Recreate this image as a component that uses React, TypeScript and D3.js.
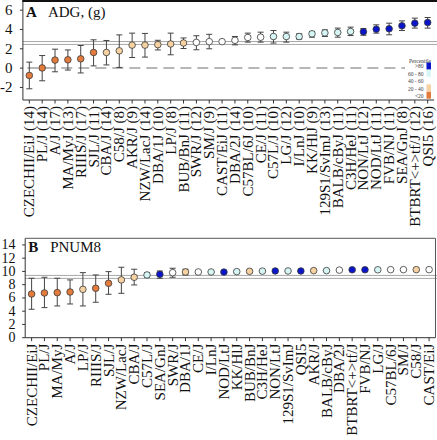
import React from "react";
import * as d3 from "d3";

// ---------- Panel A: ADG (g) ----------
const strainsA = [
  "CZECHII/EiJ", "PL/J", "A/J", "MA/MyJ", "RIIIS/J", "SJL/J", "CBA/J", "C58/J",
  "AKR/J", "NZW/LacJ", "DBA/1J", "LP/J", "BUB/BnJ", "SWR/J", "SM/J", "CAST/EiJ",
  "DBA/2J", "C57BL/6J", "CE/J", "C57L/J", "LG/J", "I/LnJ", "KK/HlJ", "129S1/SvImJ",
  "BALB/cByJ", "C3H/HeJ", "NON/LtJ", "NOD/LtJ", "FVB/NJ", "SEA/GnJ", "BTBRT<+>tf/J", "QSI5",
];
const countsA = [14, 14, 17, 13, 17, 11, 14, 8, 9, 14, 10, 8, 11, 12, 9, 11, 14, 10, 11, 10, 12, 10, 9, 13, 11, 11, 12, 11, 11, 8, 12, 16];
const meanA = [-0.76, 0.02, 0.83, 0.86, 0.96, 1.62, 1.62, 1.79, 2.38, 2.38, 2.43, 2.5, 2.6, 2.66, 2.74, 2.74,
  2.88, 3.17, 3.2, 3.27, 3.27, 3.27, 3.55, 3.65, 3.69, 3.79, 3.77, 4.03, 4.07, 4.38, 4.65, 4.72];
const lowA = [-2.14, -1.31, -0.38, -0.2, -0.5, 0.23, 0.33, 0.07, 1.1, 1.14, 1.88, 1.38, 2.03, 1.9, 2.0, 2.7,
  2.41, 2.69, 2.69, 2.59, 2.69, 3.0, 3.2, 3.27, 3.2, 3.37, 3.4, 3.62, 3.45, 3.89, 4.14, 4.14];
const highA = [0.62, 1.3, 1.96, 1.88, 2.34, 2.93, 2.86, 3.44, 3.62, 3.59, 2.88, 3.62, 3.12, 3.35, 3.5, 2.8,
  3.27, 3.62, 3.72, 3.89, 3.72, 3.55, 3.79, 3.96, 4.14, 4.24, 4.1, 4.48, 4.65, 4.89, 5.17, 5.24];
// percentile group: 0 = <20, 1 = 20-40, 2 = 40-60, 3 = 60-80, 4 = >80
const groupA = [0, 0, 0, 0, 0, 0, 1, 1, 1, 1, 1, 1, 1, 2, 2, 2, 2, 2, 2, 3, 3, 3, 3, 3, 3, 3, 4, 4, 4, 4, 4, 4];
const refLinesA = [2.75, 2.45];
const ticksA = [-2, 0, 2, 4, 6];

// ---------- Panel B: PNUM8 ----------
const strainsB = [
  "CZECHII/EiJ", "PL/J", "MA/MyJ", "A/J", "LP/J", "RIIIS/J", "SJL/J", "NZW/LacJ",
  "CBA/J", "C57L/J", "SEA/GnJ", "SWR/J", "DBA/1J", "CE/J", "I/LnJ", "NOD/LtJ",
  "KK/HlJ", "BUB/BnJ", "C3H/HeJ", "NON/LtJ", "129S1/SvImJ", "QSI5", "AKR/J", "BALB/cByJ",
  "DBA/2J", "BTBRT<+>tf/J", "FVB/NJ", "LG/J", "C57BL/6J", "SM/J", "C58/J", "CAST/EiJ",
];
const meanB = [6.6, 6.75, 6.8, 6.9, 7.3, 7.46, 8.21, 8.72, 9.12, 9.47, 9.57, 9.82, 9.92, 9.92, 9.92, 9.9,
  9.97, 10.02, 10.05, 10.07, 10.07, 10.07, 10.12, 10.12, 10.2, 10.25, 10.25, 10.25, 10.27, 10.27, 10.27, 10.27];
const lowB = [4.29, 4.54, 4.79, 5.09, 4.79, 5.35, 6.55, 6.7, 7.96, 9.12, 8.97, 9.12, 9.47, 9.8, 9.82, 9.7,
  9.87, 9.8, 9.95, 9.97, 9.97, 9.97, 10.0, 10.02, 10.1, 10.15, 10.15, 10.15, 10.17, 10.17, 10.17, 10.2];
const highB = [8.97, 9.12, 8.97, 8.72, 9.82, 9.47, 9.97, 10.63, 10.33, 9.82, 10.07, 10.48, 10.33, 10.05, 10.02, 10.1,
  10.07, 10.25, 10.15, 10.17, 10.17, 10.17, 10.24, 10.22, 10.3, 10.35, 10.35, 10.35, 10.37, 10.37, 10.37, 10.34];
const refLinesB = [9.4, 8.95];
const ticksB = [0, 2, 4, 6, 8, 10, 12, 14];

// ---------- legend ----------
const legendLabels = [">80", "60 - 80", "40 - 60", "20 - 40", "<20"];
const groupColors = ["#E27B3C", "#F6D2A2", "#FFFFFF", "#D6F5F5", "#0A14C8"];

const FONT = "'Liberation Serif', 'Times New Roman', serif";

function Panel(props: {
  strains: string[]; labels: string[]; mean: number[]; low: number[]; high: number[];
  colors: string[]; yDomain: [number, number]; yRange: [number, number]; xRange: [number, number];
  ticks: number[]; refLines: number[]; tickLabelX: number; tickFont: number; title: string; letter: string; titleY: number;
  zeroLine: boolean; topThick: boolean; rightBorder: boolean;
}) {
  const x = d3.scaleBand<string>().domain(props.strains).range(props.xRange);
  const y = d3.scaleLinear().domain(props.yDomain).range(props.yRange);
  const [x0, x1] = props.xRange;
  const yBot = props.yRange[0];
  const yTop = props.yRange[1];
  const cx = (s: string) => (x(s) as number) + x.bandwidth() / 2;
  const first = cx(props.strains[0]);
  return (
    <g>
      {props.refLines.map((v, i) => (
        <line key={"r" + i} x1={x0} x2={437} y1={y(v)} y2={y(v)} stroke="#a8a8a8" strokeWidth={1} />
      ))}
      {props.zeroLine && (
        <line x1={first - 2} x2={405} y1={y(0)} y2={y(0)} stroke="#a0a0a0" strokeWidth={1.5} strokeDasharray="11,6" />
      )}
      {/* axes */}
      <line x1={x0} x2={x0} y1={yTop} y2={yBot} stroke="#333" strokeWidth={1} />
      <line x1={x0} x2={x1} y1={yBot} y2={yBot} stroke="#333" strokeWidth={1} />
      {props.topThick ? (
        <line x1={x0 - 0.5} x2={437} y1={1} y2={1} stroke="#111" strokeWidth={2.2} />
      ) : (
        <line x1={x0} x2={x1} y1={yTop} y2={yTop} stroke="#555" strokeWidth={1} />
      )}
      {props.rightBorder && <line x1={x1} x2={x1} y1={yTop} y2={yBot} stroke="#555" strokeWidth={1} />}
      {props.ticks.map((t) => (
        <g key={"t" + t}>
          <line x1={x0 - 3} x2={x0} y1={y(t)} y2={y(t)} stroke="#333" />
          <text x={props.tickLabelX} y={y(t)} textAnchor="end" dominantBaseline="central"
            fontFamily={FONT} fontSize={props.tickFont} fill="#111">{t < 0 ? "-" + Math.abs(t) : t}</text>
        </g>
      ))}
      {props.strains.map((s, i) => (
        <g key={"x" + i}>
          <line x1={cx(s)} x2={cx(s)} y1={yBot} y2={yBot + 3.5} stroke="#333" />
          <text transform={`translate(${cx(s)},${yBot + 6}) rotate(-90)`} textAnchor="end"
            dominantBaseline="central" fontFamily={FONT} fontSize={15} fill="#111">{props.labels[i]}</text>
        </g>
      ))}
      {props.strains.map((s, i) => {
        const c = cx(s);
        return (
          <g key={"p" + i}>
            <line x1={c} x2={c} y1={y(props.low[i])} y2={y(props.high[i])} stroke="#444" strokeWidth={1} />
            <line x1={c - 3} x2={c + 3} y1={y(props.low[i])} y2={y(props.low[i])} stroke="#444" strokeWidth={1} />
            <line x1={c - 3} x2={c + 3} y1={y(props.high[i])} y2={y(props.high[i])} stroke="#444" strokeWidth={1} />
            <circle cx={c} cy={y(props.mean[i])} r={3.3} fill={props.colors[i]} stroke="#3a3a3a" strokeWidth={0.8} />
          </g>
        );
      })}
      <text x={x0 + 3} y={props.titleY} fontFamily={FONT} fontSize={15} fill="#111">
        <tspan fontWeight="bold">{props.letter}</tspan>
        <tspan x={x0 + 25}>{props.title}</tspan>
      </text>
    </g>
  );
}

export default function App() {
  const colorA = groupA.map((g) => groupColors[g]);
  const lookup = new Map(strainsA.map((s, i) => [s, groupA[i]]));
  const colorB = strainsB.map((s) => groupColors[lookup.get(s) ?? 2]);
  const labelsA = strainsA.map((s, i) => `${s} (${countsA[i]})`);
  const legendColors = [4, 3, 2, 1, 0].map((g) => groupColors[g]);
  return (
    <svg width={437} height={440} style={{ position: "absolute", left: 0, top: 0, background: "#fff" }}>
      <rect x={0} y={0} width={437} height={440} fill="#fff" />
      <Panel strains={strainsA} labels={labelsA} mean={meanA} low={lowA} high={highA} colors={colorA}
        yDomain={[-3.3, 7.05]} yRange={[100, 0]} xRange={[22.9, 434.1]} ticks={ticksA} refLines={refLinesA}
        tickLabelX={12.5} tickFont={15} title="ADG,  (g)" letter="A" titleY={16.5} zeroLine={true} topThick={true} rightBorder={false} />
      <Panel strains={strainsB} labels={strainsB} mean={meanB} low={lowB} high={highB} colors={colorB}
        yDomain={[0, 15]} yRange={[337.7, 238.3]} xRange={[25.2, 435.5]} ticks={ticksB} refLines={refLinesB}
        tickLabelX={15.5} tickFont={14} title="PNUM8" letter="B" titleY={251.7} zeroLine={false} topThick={false} rightBorder={true} />
      {/* legend */}
      <g fontFamily={FONT}>
        <text x={420} y={60.5} textAnchor="middle" fontSize={5.5} fill="#333" dominantBaseline="central">Percentile</text>
        {legendLabels.map((l, i) => (
          <g key={"l" + i}>
            <rect x={426.5} y={62.5 + i * 7.3} width={4.5} height={7} fill={legendColors[i]} />
            <text x={423.5} y={66 + i * 7.5} textAnchor="end" fontSize={5.5} fill="#444" dominantBaseline="central">{l}</text>
          </g>
        ))}
      </g>
    </svg>
  );
}
